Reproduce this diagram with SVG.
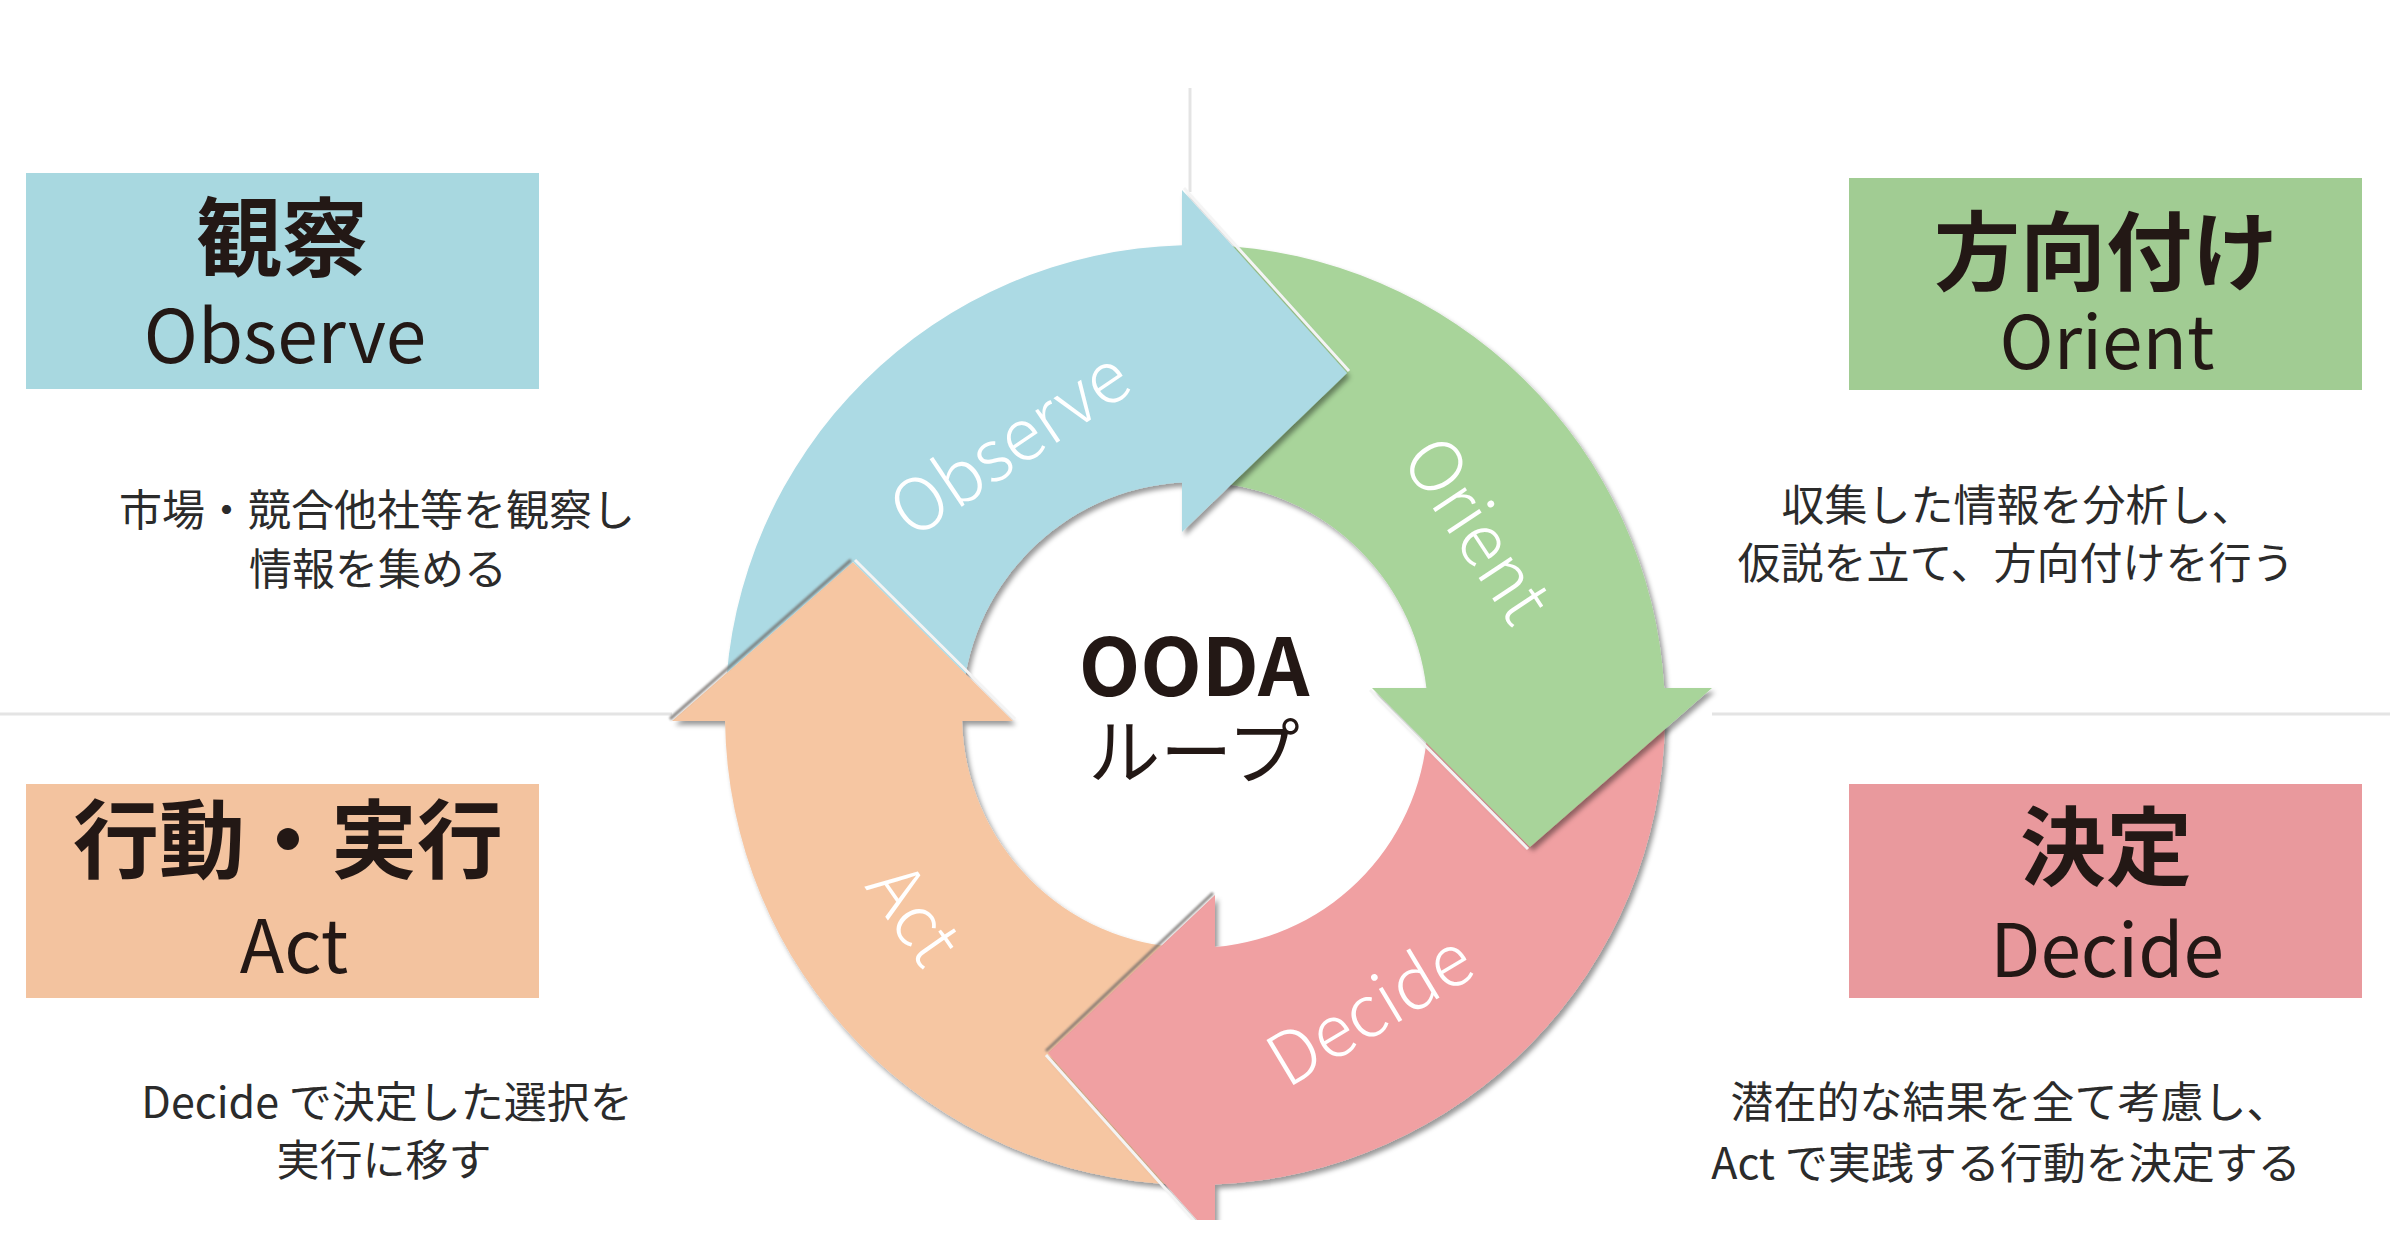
<svg xmlns="http://www.w3.org/2000/svg" width="2400" height="1260" viewBox="0 0 2400 1260">
<style>
.hd{font-family:"Noto Sans CJK JP","Noto Sans",sans-serif;font-weight:700;fill:#231815;text-anchor:middle}
.en{font-family:"Noto Sans CJK JP","Noto Sans",sans-serif;font-weight:400;fill:#231815;text-anchor:middle}
.ds{font-family:"Noto Sans CJK JP","Noto Sans",sans-serif;font-weight:400;fill:#2b2b2b;text-anchor:middle;font-size:43px}
.lb{font-family:"Noto Sans CJK JP","Noto Sans",sans-serif;font-weight:300;fill:#ffffff;text-anchor:middle;font-size:72px}
.guide{stroke:#e4e4e4;stroke-width:3;fill:none}
.lite{stroke:#f4f4f4;stroke-width:3;fill:none}
.dark{stroke:#6e6a68;stroke-width:3;fill:none;opacity:0.8}
</style>
<defs>
<filter id="sh" x="-10%" y="-10%" width="120%" height="120%">
<feDropShadow dx="3" dy="4" stdDeviation="2.5" flood-color="#000" flood-opacity="0.4"/>
</filter>
<filter id="bl" x="-5%" y="-5%" width="110%" height="110%"><feGaussianBlur stdDeviation="1"/></filter>
<mask id="notActHead" maskUnits="userSpaceOnUse" x="0" y="0" width="2400" height="1260">
<rect x="0" y="0" width="2400" height="1260" fill="#fff"/>
<polygon points="672,721 853,562 1013,721" fill="#000"/>
</mask>
<clipPath id="crop"><rect x="0" y="0" width="2400" height="1220"/></clipPath>
</defs>
<rect width="2400" height="1260" fill="#ffffff"/>

<g id="guides">
<line class="guide" x1="0" y1="714" x2="672" y2="714"/>
<line class="guide" x1="1712" y1="714" x2="2390" y2="714"/>
<line class="guide" x1="1190" y1="88" x2="1190" y2="192"/>
</g>

<g id="cycle" clip-path="url(#crop)">
<g id="arrow-act">
<path filter="url(#sh)" fill="#f6c6a2" d="M1178.6,1184.7 A470,470 0 0 1 725.04,721 L672,721 L853,562 L1013,721 L962.08,721 A233,233 0 0 0 1186.9,947.9 Z"/>
</g>
<g id="arrow-decide">
<path filter="url(#sh)" fill="#f0a0a2" d="M1664.9,723.2 A470,470 0 0 1 1215,1184.6 L1215,1240 L1048,1053 L1215,895 L1215,947.1 A233,233 0 0 0 1427.96,719.1 Z"/>
</g>
<g id="arrow-orient">
<path filter="url(#sh)" fill="#a8d49a" d="M1211.4,245.3 A470,470 0 0 1 1664.2,688 L1712,688 L1530,847 L1372,688 L1426.4,688 A233,233 0 0 0 1203.1,482.1 Z"/>
</g>
<g id="arrow-observe" mask="url(#notActHead)">
<path filter="url(#sh)" fill="#acdae4" d="M725.3,698.6 A470,470 0 0 1 1182,245.2 L1182,190 L1347,373 L1182,532 L1182,482.4 A233,233 0 0 0 962.1,706.9 Z"/>
</g>
<g id="edges">
<line class="dark" filter="url(#bl)" x1="670" y1="719" x2="851" y2="560"/>
<line class="dark" filter="url(#bl)" x1="1213" y1="893" x2="1046" y2="1051"/>
<line class="lite" x1="1184" y1="188" x2="1349" y2="371"/>
<line class="lite" x1="1370" y1="690" x2="1528" y2="849"/>
<line class="lite" x1="1046" y1="1055" x2="1213" y2="1242"/>
<line class="lite" x1="855" y1="560" x2="1015" y2="719"/>
</g>
<text class="lb" transform="translate(1010,444) rotate(-34)" y="25">Observe</text>
<text class="lb" transform="translate(1477,530) rotate(56.5)" y="25">Orient</text>
<text class="lb" transform="translate(1370,1010) rotate(-31)" y="25">Decide</text>
<text class="lb" transform="translate(914,914) rotate(55)" y="25">Act</text>
</g>

<g id="center-title">
<text class="hd" x="1194" y="696" font-size="80">OODA</text>
<text class="en" x="1194" y="778" font-size="72" font-weight="500">ループ</text>
</g>

<g id="node-observe">
<rect x="26" y="173" width="513" height="216" fill="#a8d8e0"/>
<text class="hd" x="282" y="270" font-size="86">観察</text>
<text class="en" x="285" y="363" font-size="73">Observe</text>
<text class="ds" x="377" y="526">市場・競合他社等を観察し</text>
<text class="ds" x="378" y="585">情報を集める</text>
</g>

<g id="node-orient">
<rect x="1849" y="178" width="513" height="212" fill="#a1cc93"/>
<text class="hd" x="2106" y="284" font-size="86">方向付け</text>
<text class="en" x="2107" y="369" font-size="73">Orient</text>
<text class="ds" x="2018" y="521">収集した情報を分析し、</text>
<text class="ds" x="2016" y="579">仮説を立て、方向付けを行う</text>
</g>

<g id="node-act">
<rect x="26" y="784" width="513" height="214" fill="#f3c39f"/>
<text class="hd" x="288" y="872" font-size="86">行動・実行</text>
<text class="en" x="294" y="973" font-size="73">Act</text>
<text class="ds" x="387" y="1118">Decide で決定した選択を</text>
<text class="ds" x="384" y="1176">実行に移す</text>
</g>

<g id="node-decide">
<rect x="1849" y="784" width="513" height="214" fill="#e9999d"/>
<text class="hd" x="2106" y="879" font-size="86">決定</text>
<text class="en" x="2107" y="977" font-size="73">Decide</text>
<text class="ds" x="2010" y="1118">潜在的な結果を全て考慮し、</text>
<text class="ds" x="2006" y="1179">Act で実践する行動を決定する</text>
</g>
</svg>
